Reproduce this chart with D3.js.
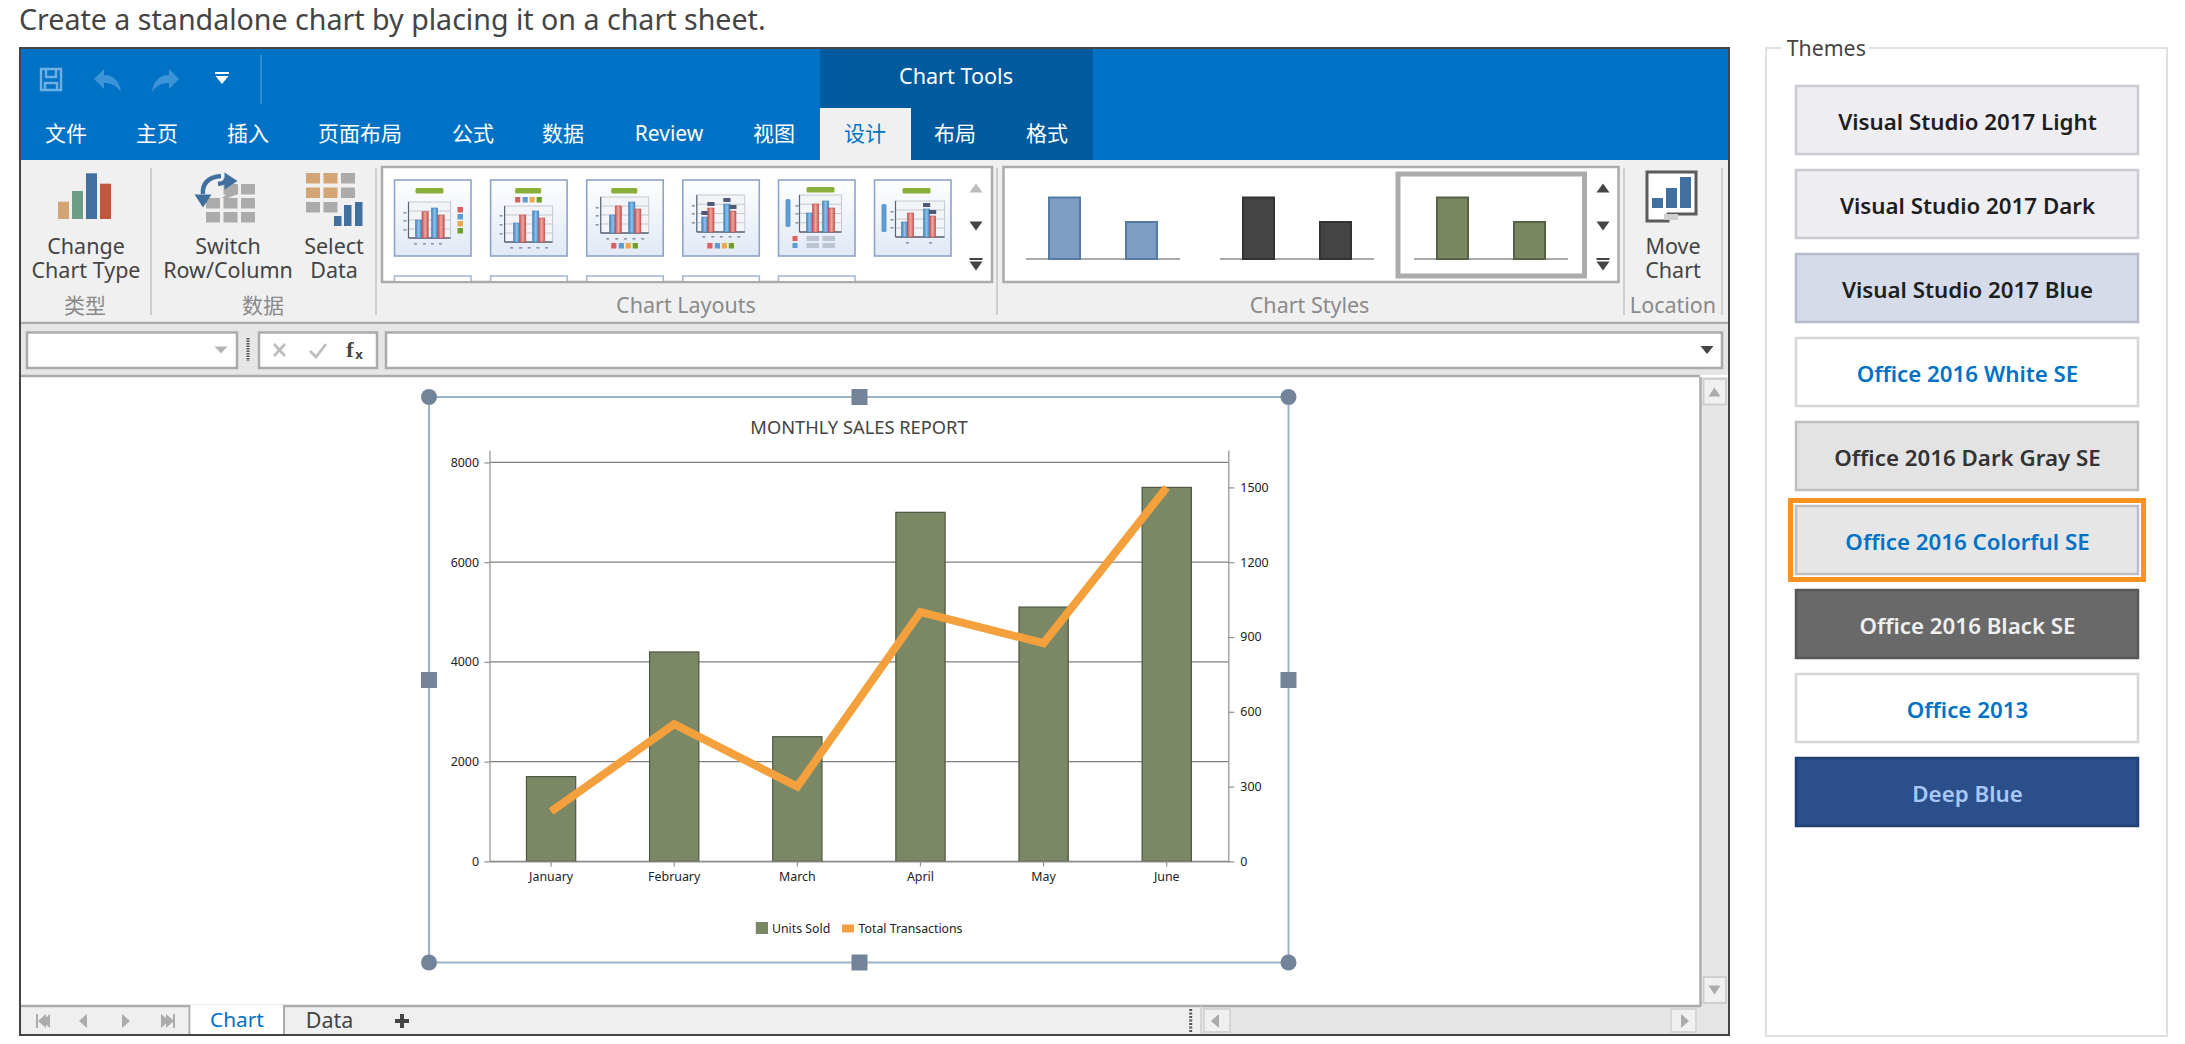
<!DOCTYPE html>
<html><head><meta charset="utf-8">
<script src="https://cdnjs.cloudflare.com/ajax/libs/d3/7.8.5/d3.min.js"></script>
<style>
html,body{margin:0;padding:0;background:#fff;overflow:hidden}
svg{display:block}
text{font-family:"Noto Sans","Noto Sans CJK SC",sans-serif}
</style></head><body><svg id="s" width="2185" height="1044" xmlns="http://www.w3.org/2000/svg"></svg>
<script>
// ---- chart data ----
const categories = ["January","February","March","April","May","June"];
const unitsSold = [1700,4200,2500,7000,5100,7500];
const totalTransactions = [200,550,300,1000,875,1500];
const leftTicks = [0,2000,4000,6000,8000];
const rightTicks = [0,300,600,900,1200,1500];
const chartTitle = "MONTHLY SALES REPORT";
const seriesNames = ["Units Sold","Total Transactions"];
// ---- interface text ----
const tabs = ["文件","主页","插入","页面布局","公式","数据","Review","视图","设计","布局","格式"];
const tabCentres = [66,157,248,360,473,563,669,774,865,955,1047];
const themes = ["Visual Studio 2017 Light","Visual Studio 2017 Dark","Visual Studio 2017 Blue","Office 2016 White SE","Office 2016 Dark Gray SE","Office 2016 Colorful SE","Office 2016 Black SE","Office 2013","Deep Blue"];
const themeFill = ["#eeeef2","#eeeef2","#d6dbe9","#ffffff","#e3e3e3","#e6e6e6","#696969","#ffffff","#2b4f8a"];
const themeEdge = ["#c9cad3","#c9cad3","#b5bacc","#d6d6d6","#bebebe","#bebebe","#575757","#d6d6d6","#223f74"];
const themeInk = ["#1e1e1e","#1e1e1e","#1e1e1e","#0072c6","#333333","#0072c6","#f0f0f0","#0072c6","#a8c8f8"];

const svg = d3.select("#s");
const BLUE="#0072c6", DARKBLUE="#005a9e", RIB="#f0f0f0", LINE="#ababab";
const UI=21.5;

function R(p,x0,y0,x1,y1,fill,stroke,sw){
  const r=p.append("rect").attr("x",x0).attr("y",y0).attr("width",x1-x0).attr("height",y1-y0).attr("fill",fill||"none");
  if(stroke) r.attr("stroke",stroke).attr("stroke-width",sw||1);
  return r;
}
function L(p,x0,y0,x1,y1,c,w){return p.append("line").attr("x1",x0).attr("y1",y0).attr("x2",x1).attr("y2",y1).attr("stroke",c).attr("stroke-width",w||1);}
function T(p,x,y,t,size,fill,anchor,weight){
  return p.append("text").attr("x",x).attr("y",y).attr("dy","0.36em").attr("font-size",size).attr("fill",fill||"#444")
    .attr("text-anchor",anchor||"middle").attr("font-weight",weight||400).text(t);
}
// two-line ribbon caption, kept as one text element
function T2(p,x,y,a,b){
  const e=p.append("text").attr("x",x).attr("y",y).attr("font-size",UI).attr("fill","#444").attr("text-anchor","middle");
  e.append("tspan").attr("x",x).attr("dy","0.36em").text(a);
  e.append("tspan").attr("x",x).attr("dy",24).text(b);
  return e;
}
function P(p,d,fill,stroke,sw){const e=p.append("path").attr("d",d).attr("fill",fill||"none");if(stroke)e.attr("stroke",stroke).attr("stroke-width",sw||1);return e;}
function tri(p,cx,cy,w,h,dir,c){
  const d= dir==="up"?`M${cx-w/2},${cy+h/2}L${cx+w/2},${cy+h/2}L${cx},${cy-h/2}Z`:
           dir==="down"?`M${cx-w/2},${cy-h/2}L${cx+w/2},${cy-h/2}L${cx},${cy+h/2}Z`:
           dir==="left"?`M${cx+h/2},${cy-w/2}L${cx+h/2},${cy+w/2}L${cx-h/2},${cy}Z`:
           `M${cx-h/2},${cy-w/2}L${cx-h/2},${cy+w/2}L${cx+h/2},${cy}Z`;
  return P(p,d,c);
}

// ---- top caption ----
T(svg,19,20,"Create a standalone chart by placing it on a chart sheet.",28.6,"#444","start");

// ---- window ----
const win=svg.append("g");
R(win,20,48,1729,1035,"#fff","#444",2);
R(win,21,49,1728,160,BLUE);
R(win,820,49,1093,160,DARKBLUE);
R(win,820,108,911,160,RIB);
T(win,956,76,"Chart Tools",21.6,"#fff");
tabs.forEach((t,i)=>T(win,tabCentres[i],133.5,t,21,t==="设计"?BLUE:"#fff"));
// quick access
const qa=win.append("g");
P(qa,"M41,69H61V90H41Z M46,69V77H56V69 M45,83H57V90H45Z","none","#6fb0e4",2.4);
P(qa,"M94,79L104,69V75C113,75 120,81 121,92C116,85 111,83 104,83V89Z","#3d93d8");
P(qa,"M179,79L169,69V75C160,75 153,81 152,92C157,85 162,83 169,83V89Z","#3d93d8");
R(qa,215,72,229,74,"#fff"); tri(qa,222,80,13,8,"down","#fff");
L(win,261,55,261,104,"#3a94d8",1.5);

// ---- ribbon ----
R(win,21,160,1728,322,RIB);
L(win,21,323,1728,323,LINE,2.5);
R(win,21,324,1728,375,"#e6e6e6");
L(win,21,376,1700,376,LINE,2.5);
[151,376,997,1624,1722].forEach(x=>L(win,x,168,x,315,"#cfcfcf",2));

const TAN="#d4a574",GR="#ababab",BAR="#416f9f";
// change chart type
[[58,201.7,TAN],[72,191,"#6e9e88"],[86,173.3,BAR],[100,183.7,"#c0573a"]].forEach(a=>R(win,a[0],a[1],a[0]+11,219,a[2]));
T2(win,86,246.7,"Change","Chart Type");T(win,85,305,"类型",21,"#8a8a8a");
// switch row/column
[[0,1],[0,2],[1,0],[1,1],[1,2],[2,0],[2,1],[2,2]].forEach(a=>{
  const x=206+a[1]*17.5,y=184+a[0]*14;R(win,x,y,x+14,y+10.5,GR);});
P(win,"M206,198L223,184V198Z","#f0f0f0");P(win,"M222,198L238,184V194L228,198Z",GR);
P(win,"M221,176C208,177 202,184 203,194","none",BAR,4.5);
tri(win,203,201,17,13,"down",BAR);
P(win,"M218,184C226,183 226,180 226,178","none",BAR,4.5);
tri(win,231,181,17,13,"right",BAR);
T2(win,228,246.7,"Switch","Row/Column");T(win,263,305,"数据",21,"#8a8a8a");
// select data
[[0,0,TAN],[0,1,TAN],[0,2,GR],[1,0,TAN],[1,1,TAN],[1,2,GR],[2,0,GR],[2,1,GR]].forEach(a=>{
  const x=306+a[1]*17.5,y=173+a[0]*14.5;R(win,x,y,x+14,y+10.5,a[2]);});
[[334,216],[344,205],[355,202]].forEach(a=>R(win,a[0],a[1],a[0]+7.5,226,BAR));
T2(win,334,246.7,"Select","Data");

// layout gallery
const defs=svg.append("defs");
const grad=defs.append("linearGradient").attr("id","thumb").attr("x1",0).attr("y1",0).attr("x2",0).attr("y2",1);
grad.append("stop").attr("offset","0").attr("stop-color","#fdfeff");
grad.append("stop").attr("offset","1").attr("stop-color","#e2e9f5");
const bg=defs.append("linearGradient").attr("id","bl");
bg.append("stop").attr("offset","0").attr("stop-color","#3f83bf");bg.append("stop").attr("offset",".5").attr("stop-color","#8cc4e8");bg.append("stop").attr("offset","1").attr("stop-color","#3f83bf");
const rg=defs.append("linearGradient").attr("id","rd");
rg.append("stop").attr("offset","0").attr("stop-color","#c9514f");rg.append("stop").attr("offset",".5").attr("stop-color","#eda99f");rg.append("stop").attr("offset","1").attr("stop-color","#c9514f");
defs.append("clipPath").attr("id","galclip").append("rect").attr("x",384).attr("y",168).attr("width",607).attr("height",113);

R(win,382,167,992,282,"#fff",LINE,2.5);
const thumbX=[394.5,490.6,586.7,682.8,778.5,874.5];
const G="#8aae3a",RED="#d9605e",BL="#5f9bd0",OR="#eba84c",GN="#6f9e2c",DK="#4d5a78",GY="#bcc4d2",DASH="#8b95a6";
const layouts=[
 {title:[21,49,8],plot:[14,56,22,58],xs:[21,27.5,37,43.5],tops:[40,31.7,28,35],yd:[9,27,[32,40,49]],xd:[63,[21,30,38,46]],leg:{v:[63,[27,34,41,48]]}},
 {title:[24.5,50.6,8],plot:[14,62,26,62],xs:[23,29,42,48],tops:[43,35,31,38],yd:[9,12,[35,44,53]],xd:[67,[21,30,38.6,47.3,56]],leg:{h:[17,[24.5,32,39,46]]}},
 {title:[24.5,50.6,8],plot:[14,62,17,53],xs:[23,28.5,42,48],tops:[35,26,22,29],yd:[9,12,[27,35,44]],xd:[58,[21,30,38.6,47.3,56]],leg:{h:[63,[24.5,32,39,46]]}},
 {plot:[14,62,15,52],xs:[19,25,41,47],tops:[37,28,24,31],chips:[0,1,2,3],yd:[9,12,[25,33,42]],xd:[56,[21,30,38.6,47.3,56]],leg:{h:[63,[24.5,32,39,46]]}},
 {title:[28,56,7],rod:[7,12,19,47],plot:[21,63,15,52],xs:[28,34,44,50],tops:[33,24,21,28],yd:[17,20,[25,33,42]],table:true},
 {title:[28,56,8],rod:[7,12,24,52],plot:[21,70,21,57],xs:[27,33,49,55],tops:[42,33,29,36],chips:[2,3],yd:[16,19,[31,39,47]],xd:[62,[33,56]]}
];
const gal=win.append("g").attr("clip-path","url(#galclip)");
thumbX.forEach((x0,i)=>{
  const g=gal.append("g").attr("transform",`translate(${x0},180)`);
  R(g,0,0,76.5,76,"url(#thumb)","#8fa3cc",1.6);
  const c=layouts[i];
  if(c.title) R(g,c.title[0],c.title[2],c.title[1],c.title[2]+5.5,G).attr("rx",1.5);
  if(c.rod) R(g,c.rod[0],c.rod[2],c.rod[1],c.rod[3],BL).attr("rx",1.5);
  const p=c.plot;
  R(g,p[0],p[2],p[1],p[3],"#f3f4f7","#c5c9d2",1);
  [1,2,3].forEach(k=>{const y=p[2]+(p[3]-p[2])*k/4;L(g,p[0],y,p[1],y,"#c5c9d2",1);});
  L(g,p[0],p[3],p[1],p[3],"#5a6478",1.5);L(g,p[0],p[2],p[0],p[3],"#5a6478",1.2);
  c.xs.forEach((x,k)=>{
    R(g,x,c.tops[k],x+6.2,p[3],`url(#${k%2?"rd":"bl"})`,k%2?"#c05050":"#3f7fb8",0.6);
    if(c.chips&&c.chips.includes(k)) R(g,x-0.5,c.tops[k]-6,x+6.7,c.tops[k]-2,DK);
  });
  if(c.yd) c.yd[2].forEach(y=>R(g,c.yd[0],y,c.yd[0]+3,y+1.6,DASH));
  if(c.xd) c.xd[1].forEach(x=>R(g,x-1.5,c.xd[0],x+1.5,c.xd[0]+1.6,DASH));
  const lc=[RED,BL,OR,GN];
  if(c.leg&&c.leg.v) c.leg.v[1].forEach((y,k)=>R(g,c.leg.v[0],y,c.leg.v[0]+5.5,y+5.5,lc[k]));
  if(c.leg&&c.leg.h) c.leg.h[1].forEach((x,k)=>R(g,x,c.leg.h[0],x+5.2,c.leg.h[0]+5.5,lc[k]));
  if(c.table){R(g,14,56,19,61,RED);R(g,14,63,19,68,BL);
    [28,44].forEach(x=>{R(g,x,56,x+12.5,61,GY);R(g,x,63,x+12.5,68,GY);});}
  if(i<5) R(gal,x0,276,x0+76.5,300,"#fff","#a9b8d8",1.6);
});
tri(win,976,188,13,9,"up","#bdbdbd");tri(win,976,226,13,9,"down","#444");
R(win,969.5,258,982.5,260,"#444");tri(win,976,266,13,9,"down","#444");
T(win,686,305,"Chart Layouts",UI,"#8a8a8a");

// styles gallery
R(win,1003.5,167,1618.5,282,"#fff",LINE,2.5);
R(win,1398,174,1584.5,276,"#fff",GR,5);
[[1026,"#7f9dc3","#557aa6"],[1220,"#444444","#333"],[1414,"#7a8763","#566245"]].forEach(a=>{
  L(win,a[0],259,a[0]+154,259,"#aaa",2);
  R(win,a[0]+23,197.5,a[0]+54,259,a[1],a[2],2);
  R(win,a[0]+100,222,a[0]+131,259,a[1],a[2],2);
});
tri(win,1603,188,13,9,"up","#444");tri(win,1603,226,13,9,"down","#444");
R(win,1596.5,258,1609.5,260,"#444");tri(win,1603,266,13,9,"down","#444");
T(win,1309.6,305,"Chart Styles",UI,"#8a8a8a");
// move chart
P(win,"M1647,172H1696V214H1668V221H1647Z","#fff","#5a5a5a",3);
R(win,1664,214,1678,220,"#cfcfcf");
[[1652,198],[1666,188],[1680,177]].forEach(a=>R(win,a[0],a[1],a[0]+11,208,BAR));
T2(win,1673,246.7,"Move","Chart");T(win,1673,305,"Location",UI,"#8a8a8a");

// formula bar
R(win,27,332.5,237,368,"#fff",LINE,2.5);
R(win,259,332.5,377,368,"#fff",LINE,2.5);
R(win,386,332.5,1722,368,"#fff",LINE,2.5);
tri(win,221,350,13,7,"down","#b5b5b5");
L(win,248,338,248,361,"#555",3).attr("stroke-dasharray","1.5 1");
tri(win,1707,350,13,8,"down","#444");
P(win,"M274,344L285,356M285,344L274,356","none","#bdbdbd",2.6);
P(win,"M310,351L316,357L326,344","none","#bdbdbd",2.6);
win.append("text").attr("x",350).attr("y",357).attr("text-anchor","middle").attr("font-size",22).attr("font-weight",700).attr("fill","#444").attr("style","font-family:'Liberation Serif'").text("f");
win.append("text").attr("x",359).attr("y",359).attr("text-anchor","middle").attr("font-size",13).attr("font-weight",700).attr("fill","#444").text("x");

// sheet edge + scrollbars
R(win,1702,377,1728,1034,"#e6e6e6");
L(win,1700.5,377,1700.5,1006,LINE,2.5);
R(win,1703.5,379,1726,404.5,"#f0f0f0","#cfcfcf",2);tri(win,1714.5,392,12,9,"up","#ababab");
R(win,1703.5,977,1726,1003,"#f0f0f0","#cfcfcf",2);tri(win,1714.5,990,12,9,"down","#ababab");
R(win,21,1006,1201,1034,"#efefef");
R(win,1201,1006,1728,1034,"#e5e5e5");
L(win,21,1006,1701,1006,LINE,2.5);
L(win,1201,1006,1201,1034,"#cfcfcf",1.5);
L(win,1190.7,1009,1190.7,1033,"#555",3).attr("stroke-dasharray","2 1.5");
R(win,1204,1009,1230,1032,"#f0f0f0","#d6d6d6",2);tri(win,1215,1021,14,8,"left","#ababab");
R(win,1671,1009,1696,1032,"#f0f0f0","#d6d6d6",2);tri(win,1685,1021,14,8,"right","#ababab");
// sheet tabs
L(win,189.5,1006,189.5,1034,LINE,2);
R(win,190.5,1005,283,1034,"#fff");
L(win,284,1006,284,1034,LINE,2);
L(win,21,1035,1729,1035,"#444",2);
tri(win,42,1021,14,8,"left",GR);L(win,37,1014,37,1028,GR,2);tri(win,46,1021,14,8,"left",GR);
tri(win,83,1021,14,8,"left",GR);tri(win,126,1021,14,8,"right",GR);
tri(win,165,1021,14,8,"right",GR);L(win,174,1014,174,1028,GR,2);tri(win,170,1021,14,8,"right",GR);
T(win,237,1020,"Chart",20.8,BLUE);T(win,329.5,1020,"Data",21.5,"#444");
R(win,395,1019,409,1023,"#444");R(win,400,1014,404,1028,"#444");

// ---- chart frame ----
const frame=svg.append("g");
R(frame,429,397,1288.5,962.5,"#fff","#9db2c2",2);

// ---- the chart ----
const plotL=489.5,plotR=1228.3,plotT=450,plotB=861.4;
const x=d3.scaleBand().domain(categories).range([plotL,plotR]).paddingInner(0.6).paddingOuter(0.3);
const y1=d3.scaleLinear().domain([0,8250]).range([plotB,plotT]);
const y2=d3.scaleLinear().domain([0,1650]).range([plotB,plotT]);
const chart=svg.append("g");
chart.append("g").selectAll("line").data(leftTicks).join("line")
  .attr("x1",plotL).attr("x2",plotR).attr("y1",d=>y1(d)).attr("y2",d=>y1(d)).attr("stroke","#808080").attr("stroke-width",1.3);
chart.append("g").selectAll("rect").data(unitsSold).join("rect")
  .attr("x",(d,i)=>x(categories[i])).attr("width",x.bandwidth()).attr("y",d=>y1(d)).attr("height",d=>plotB-y1(d))
  .attr("fill","#7b8866").attr("stroke","#4c5641").attr("stroke-width",1.2);
function styleAxis(g){
  g.selectAll("path.domain").attr("stroke","#8f8f8f").attr("stroke-width",1.2);
  g.selectAll(".tick line").attr("stroke","#8f8f8f").attr("stroke-width",1.2);
  g.selectAll("text").attr("font-size",12.4).attr("fill","#222").attr("font-family",'"Noto Sans",sans-serif');
}
chart.append("g").attr("transform",`translate(${plotL},0)`)
  .call(d3.axisLeft(y1).tickValues(leftTicks).tickFormat(d3.format("d")).tickSize(5).tickPadding(5.5).tickSizeOuter(0)).call(styleAxis);
chart.append("g").attr("transform",`translate(${plotR},0)`)
  .call(d3.axisRight(y2).tickValues(rightTicks).tickFormat(d3.format("d")).tickSize(6).tickPadding(6).tickSizeOuter(0)).call(styleAxis);
chart.append("g").attr("transform",`translate(0,${plotB})`)
  .call(d3.axisBottom(x).tickSize(5).tickPadding(5.5).tickSizeOuter(0)).call(styleAxis);
const line=d3.line().x((d,i)=>x(categories[i])+x.bandwidth()/2).y(d=>y2(d));
chart.append("path").datum(totalTransactions).attr("d",line).attr("fill","none")
  .attr("stroke","#f4a03c").attr("stroke-width",8).attr("stroke-linejoin","miter").attr("stroke-miterlimit",10);
T(chart,859,427,chartTitle,18.3,"#444");
// legend
R(chart,755.8,922,768,934,"#7b8866");
T(chart,772,928.4,seriesNames[0],12.3,"#222","start");
R(chart,842,924.5,854,932.5,"#f4a03c");
T(chart,858.6,928.4,seriesNames[1],12.3,"#222","start");

// handles
const HC="#72839a";
[[429,397],[1288.5,397],[429,962.5],[1288.5,962.5]].forEach(a=>frame.append("circle").attr("cx",a[0]).attr("cy",a[1]).attr("r",8).attr("fill",HC));
[[859.5,397],[859.5,962.5],[429,680],[1288.5,680]].forEach(a=>R(frame,a[0]-8,a[1]-8,a[0]+8,a[1]+8,HC));

// ---- themes panel ----
const pnl=svg.append("g");
R(pnl,1766,48,2167,1036,"#fff","#e0e0e0",2);
R(pnl,1781,40,1869,56,"#fff");
T(pnl,1786.7,48,"Themes",21.3,"#444","start");
themes.forEach((t,i)=>{
  const y0=i<6?85+i*84:589+(i-6)*84, h=70;
  R(pnl,1796,y0+1,2138,y0+h-1,themeFill[i],themeEdge[i],2.5);
  T(pnl,1967.5,y0+h/2+2,t,22.3,themeInk[i],"middle",600);
});
R(pnl,1790.5,500.5,2143.5,579.5,"none","#f7931e",5);
</script></body></html>
